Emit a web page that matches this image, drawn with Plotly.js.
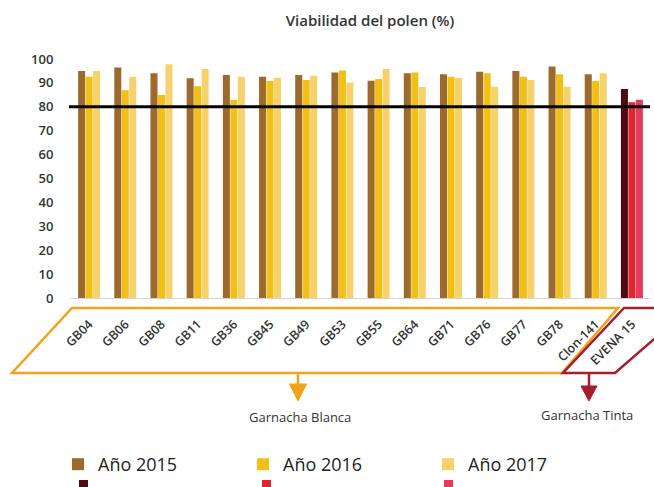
<!DOCTYPE html>
<html>
<head>
<meta charset="utf-8">
<script src="https://cdn.plot.ly/plotly-3.0.1.min.js"></script>
<style>html,body{margin:0;padding:0;background:#fff;}#chart{width:654px;height:487px;}</style>
</head>
<body>
<div id="chart"></div>
<script>
// ---- data ----
const categories = ['GB04','GB06','GB08','GB11','GB36','GB45','GB49','GB53','GB55','GB64','GB71','GB76','GB77','GB78','Clon-141','EVENA 15'];
const variety = ['B','B','B','B','B','B','B','B','B','B','B','B','B','B','B','T'];
const yearNames = ['Año 2015','Año 2016','Año 2017'];
const v2015 = [95.0, 96.4, 94.0, 91.9, 93.3, 92.6, 93.3, 94.4, 90.9, 94.0, 93.6, 94.7, 95.0, 96.9, 93.6, 87.4];
const v2016 = [92.6, 86.9, 84.9, 88.6, 82.8, 90.8, 91.2, 95.2, 91.6, 94.4, 92.6, 94.0, 92.6, 93.6, 90.8, 81.9];
const v2017 = [95.0, 92.6, 97.8, 95.8, 92.6, 92.2, 93.0, 90.2, 95.8, 88.3, 92.2, 88.4, 91.2, 88.4, 94.0, 83.0];
const threshold = 80;
const yTicks = [0,10,20,30,40,50,60,70,80,90,100];
const groupLabels = ['Garnacha Blanca','Garnacha Tinta'];

// ---- styles ----
const colB = ['#9c6a2c','#f2bf16','#f7d26a'];
const colT = ['#4e0b14','#e2252f','#e83a5c'];
const orange = '#f0a31c', red = '#a71d2b';
const FONT = 'Open Sans, DejaVu Sans, sans-serif';

const series = [v2015, v2016, v2017];
const traces = series.map((vals, i) => ({
  type: 'bar',
  name: yearNames[i],
  x: categories,
  y: vals,
  marker: {color: variety.map(v => v === 'T' ? colT[i] : colB[i]), line: {width: 0}},
  hoverinfo: 'x+y+name'
}));

// pixel -> paper helpers (plot area: x 71..650, y 59..298)
const L = 71, R = 650, T = 59, B = 298;
const px = x => (x - L) / (R - L);
const py = y => (B - y) / (B - T);
const P = (pts) => 'M ' + pts.map(p => px(p[0]).toFixed(4) + ',' + py(p[1]).toFixed(4)).join(' L ') + ' Z';

const shapes = [
  {type:'line', xref:'paper', yref:'y', x0:px(69), x1:1, y0:threshold, y1:threshold, line:{color:'#000', width:3}, layer:'above'},
  {type:'path', xref:'paper', yref:'paper', path:P([[72,308],[618,308],[562,373],[12,373]]), line:{color:orange, width:2.5}},
  {type:'line', xref:'paper', yref:'paper', x0:px(298), x1:px(298), y0:py(373), y1:py(386), line:{color:orange, width:2.5}},
  {type:'path', xref:'paper', yref:'paper', path:P([[289.5,384],[306.5,384],[298,401]]), fillcolor:orange, line:{color:orange, width:1}},
  {type:'path', xref:'paper', yref:'paper', path:P([[624,308],[690,308],[615,373],[563,373]]), line:{color:red, width:2.5}},
  {type:'line', xref:'paper', yref:'paper', x0:px(589), x1:px(589), y0:py(373), y1:py(388), line:{color:red, width:2.5}},
  {type:'path', xref:'paper', yref:'paper', path:P([[581,386],[597,386],[589,401]]), fillcolor:red, line:{color:red, width:1}},
  // second legend row (Garnacha Tinta colours)
  {type:'rect', xref:'paper', yref:'paper', x0:px(79), x1:px(88), y0:py(480), y1:py(490), fillcolor:colT[0], line:{width:0}},
  {type:'rect', xref:'paper', yref:'paper', x0:px(262), x1:px(271), y0:py(480), y1:py(490), fillcolor:colT[1], line:{width:0}},
  {type:'rect', xref:'paper', yref:'paper', x0:px(444), x1:px(453), y0:py(480), y1:py(490), fillcolor:colT[2], line:{width:0}}
];

const annotations = [
  {xref:'paper', yref:'paper', x:px(300), y:py(417), xanchor:'center', yanchor:'middle', text:groupLabels[0], showarrow:false, font:{family:FONT, size:13, color:'#333'}},
  {xref:'paper', yref:'paper', x:px(587), y:py(415), xanchor:'center', yanchor:'middle', text:groupLabels[1], showarrow:false, font:{family:FONT, size:13, color:'#333'}}
];

const layout = {
  width: 654, height: 487,
  margin: {l: L, r: 654 - R, t: T, b: 487 - B},
  paper_bgcolor: '#fff', plot_bgcolor: '#fff',
  font: {family: FONT, color: '#333'},
  title: {text: 'Viabilidad del polen (%)', x: px(370), xref: 'paper', xanchor: 'center', y: 1 - 21/487, yanchor: 'middle',
          font: {family: FONT, size: 15, color: '#333', weight: 600}},
  barmode: 'group',
  bargap: 0.38,
  bargroupgap: 0.06,
  xaxis: {
    type: 'category', tickangle: -45,
    showline: true, linecolor: '#d4d4d4', linewidth: 1,
    ticks: 'outside', ticklen: 13, tickcolor: 'rgba(0,0,0,0)',
    tickfont: {family: FONT, size: 12.5, color: '#333', weight: 600},
    showgrid: false, zeroline: false, automargin: false
  },
  yaxis: {
    range: [0, 100], tickvals: yTicks, ticktext: yTicks.map(String),
    showgrid: false, zeroline: false, showline: false,
    ticks: 'outside', ticklen: 14, tickcolor: 'rgba(0,0,0,0)',
    tickfont: {family: FONT, size: 13, color: '#333', weight: 600}, automargin: false
  },
  showlegend: true,
  legend: {
    orientation: 'h', x: px(58), xanchor: 'left', y: py(483), yanchor: 'bottom',
    entrywidth: 140, entrywidthmode: 'pixels', traceorder: 'normal',
    font: {family: FONT, size: 18, color: '#222'}, bgcolor: 'rgba(0,0,0,0)', itemclick: false
  },
  shapes: shapes,
  annotations: annotations
};

Plotly.newPlot('chart', traces, layout, {displayModeBar: false, staticPlot: true});
</script>
</body>
</html>
